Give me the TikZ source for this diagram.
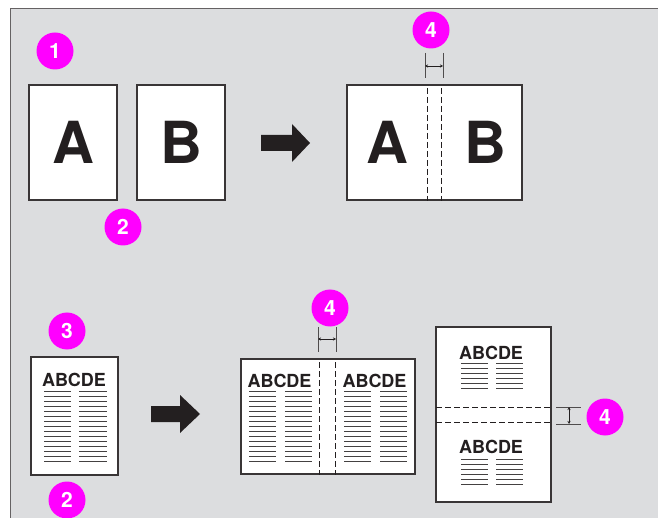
\documentclass[tikz,border=0pt]{standalone}
\usepackage{fontspec}
\setmainfont{TeX Gyre Heros}
\usepackage{xcolor}
\usepackage{tikz}
\usetikzlibrary{arrows.meta, positioning}

\definecolor{panelgray}{HTML}{DCDDDF}
\definecolor{callmag}{HTML}{FF00FF}
\definecolor{ink}{HTML}{231F20}

\begin{document}
\begin{tikzpicture}[x=1pt, y=-1pt, on grid,
        page/.style={draw=ink!90, line width=1.2pt, fill=white, inner sep=0pt},
        callout/.style={circle, fill=callmag, text=white, inner sep=0pt, minimum size=37pt,
            font=\bfseries\fontsize{21}{21}\selectfont},
        bigletter/.style={text=ink, inner sep=0pt, font=\bfseries\fontsize{58}{58}\selectfont},
        heading/.style={text=ink, inner sep=0pt, anchor=base, font=\bfseries\fontsize{18}{18}\selectfont},
        fold/.style={draw=ink, line width=0.8pt, dash pattern=on 6pt off 3pt},
        tickline/.style={draw=ink!80, line width=1pt},
        gap/.style={draw=ink, line width=0.6pt, {Stealth[length=3pt,width=3pt]}-{Stealth[length=3pt,width=3pt]}},
        textline/.style={draw=ink!85, line width=1pt}]
        \useasboundingbox (0,0) rectangle (658,518);
        \fill[panelgray] (10.5,8.5) rectangle (658,518);
        \draw[ink!70, line width=1.2pt] (10.5,518) -- (10.5,8.5) -- (658,8.5);
        
        % top row: two originals -> one sheet
        \node[page, minimum width=88pt, minimum height=115pt] (pageA) at (73,142.5) {};
        \node[page, minimum width=88pt, minimum height=115pt, right=108pt of pageA] (pageB) {};
        \node[bigletter] (letA) at (pageA) {A};
        \node[bigletter] (letB) at (pageB) {B};
        \node[page, minimum width=175pt, minimum height=115pt] (spread) at (434.5,142.5) {};
        \node[bigletter] (spreadA) at (387,142.5) {A};
        \node[bigletter] (spreadB) at (485,142.5) {B};
        \fill[ink] (261,135) -- (292,135) -- (292,124) -- (310,143) -- (292,162) -- (292,151) -- (261,151) -- cycle;
        
        \node[callout] (c1) at (55,51) {1};
        \node[callout] (c2) at (123,227) {2};
        \node[callout] (c4) at (431,30) {4};
        
        \coordinate (foldL) at (427,88);
        \coordinate (foldR) at (441,88);
        \draw[fold] (foldL) -- (foldL |- spread.south);
        \draw[fold] (foldR) -- (foldR |- spread.south);
        \coordinate (dimL) at (425,53);
        \coordinate (dimR) at (443,53);
        \draw[tickline] (dimL) -- ++(0,25);
        \draw[tickline] (dimR) -- ++(0,25);
        \draw[gap] ([yshift=-13pt]dimL) -- ([yshift=-13pt]dimR);
        
        % bottom row: text page -> sheet with margin
        \node[page, minimum width=87pt, minimum height=118pt] (single) at (74.5,416) {};
        \node[heading] (singleHead) at (74,386) {ABCDE};
        \foreach \i in {0,...,14} {
            \draw[textline] (44,391+5.07*\i) -- (71,391+5.07*\i);
            \draw[textline] (79,391+5.07*\i) -- (107,391+5.07*\i);
        }
        \fill[ink] (151,406) -- (180,406) -- (180,395) -- (200,414) -- (180,433) -- (180,422) -- (151,422) -- cycle;
        
        \node[callout] (c3) at (67,331) {3};
        \node[callout] (c2b) at (67,500) {2};
        
        \node[page, minimum width=174pt, minimum height=115pt] (wide) at (328,416.5) {};
        \node[heading] (wideHeadL) at (279.5,387) {ABCDE};
        \node[heading] (wideHeadR) at (374.5,387) {ABCDE};
        \foreach \i in {0,...,14} {
            \draw[textline] (249,391+5.07*\i) -- (276,391+5.07*\i);
            \draw[textline] (285,391+5.07*\i) -- (312,391+5.07*\i);
            \draw[textline] (344,391+5.07*\i) -- (371,391+5.07*\i);
            \draw[textline] (380,391+5.07*\i) -- (407,391+5.07*\i);
        }
        \coordinate (wfoldL) at (319,362);
        \coordinate (wfoldR) at (335,362);
        \draw[fold] (wfoldL) -- (wfoldL |- wide.south);
        \draw[fold] (wfoldR) -- (wfoldR |- wide.south);
        \coordinate (wdimL) at (318,327);
        \coordinate (wdimR) at (336,327);
        \draw[tickline] (wdimL) -- ++(0,25);
        \draw[tickline] (wdimR) -- ++(0,25);
        \draw[gap] ([yshift=-12pt]wdimL) -- ([yshift=-12pt]wdimR);
        \node[callout] (c4b) at (330,308) {4};
        
        \node[page, minimum width=115pt, minimum height=175pt] (tall) at (493.5,414.5) {};
        \node[heading] (tallHeadT) at (491,359) {ABCDE};
        \node[heading] (tallHeadB) at (491,453) {ABCDE};
        \foreach \i in {0,...,5} {
            \draw[textline] (461,363.5+5*\i) -- (488,363.5+5*\i);
            \draw[textline] (496,363.5+5*\i) -- (523,363.5+5*\i);
            \draw[textline] (461,459+5*\i) -- (488,459+5*\i);
            \draw[textline] (496,459+5*\i) -- (523,459+5*\i);
        }
        \coordinate (tfoldT) at (436,407);
        \coordinate (tfoldB) at (436,422);
        \draw[fold] (tfoldT) -- (tfoldT -| tall.east);
        \draw[fold] (tfoldB) -- (tfoldB -| tall.east);
        \coordinate (tdimT) at (556,407);
        \coordinate (tdimB) at (556,424);
        \draw[tickline] (tdimT) -- ++(25,0);
        \draw[tickline] (tdimB) -- ++(25,0);
        \draw[gap] ([xshift=13pt]tdimT) -- ([xshift=13pt]tdimB);
        \node[callout] (c4c) at (605,417) {4};
        
    \end{tikzpicture}
\end{document}
